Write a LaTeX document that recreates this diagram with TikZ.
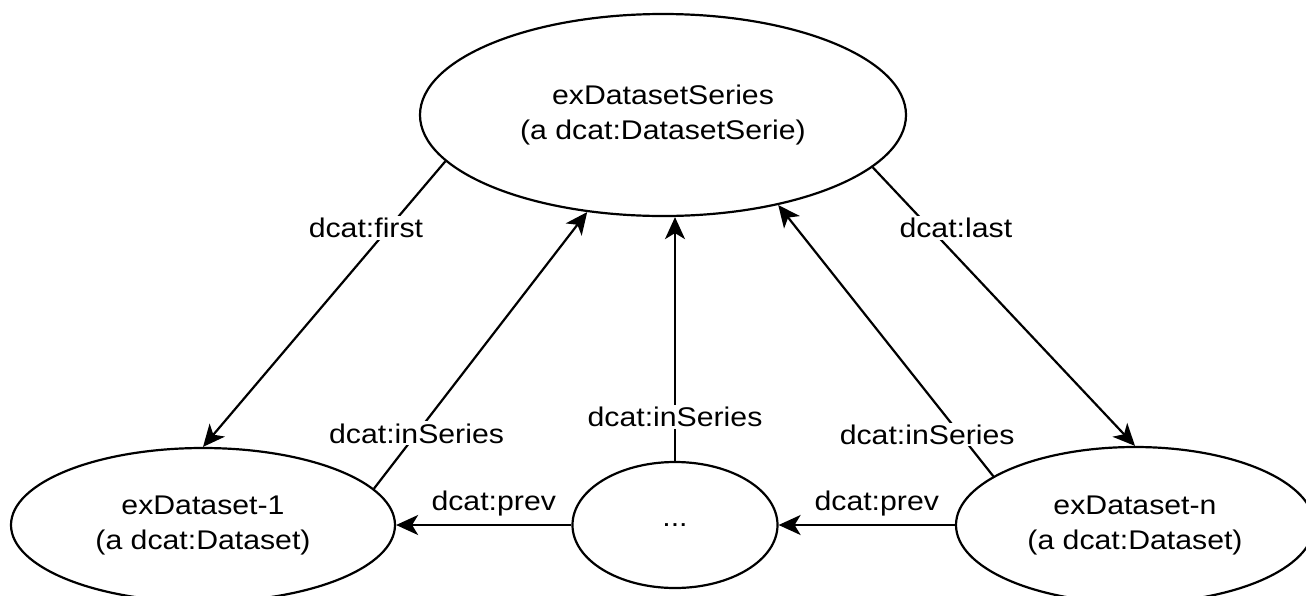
\documentclass[tikz,border=0pt]{standalone}
\usepackage{fontspec}
\setmainfont[FakeStretch=1.12]{Liberation Sans}
\usetikzlibrary{arrows.meta, positioning, shapes.geometric}
\tikzstyle{resource}=[ellipse, draw, line width=2.2pt, inner sep=0pt, align=center, font=\fontsize{27}{35}\selectfont]
\tikzstyle{post}=[->, line width=2.2pt]
\tikzstyle{prop}=[fill=white, inner sep=2pt, font=\fontsize{27}{32}\selectfont]

\begin{document}
\begin{tikzpicture}[x=1pt, y=-1pt, node distance=410pt, >={Stealth[length=22pt, width=20pt, inset=6pt]}]
      \useasboundingbox (0,0) rectangle (1306,595);
      \node[resource, minimum width=486pt, minimum height=202pt] (ser) at (663,115) {exDatasetSeries\\(a dcat:DatasetSerie)};
      \node[resource, minimum width=205pt, minimum height=126pt] (mid) [below of=ser, xshift=12pt] {...};
      \node[resource, minimum width=384pt, minimum height=154pt] (d1) [node distance=472pt, left of=mid] {exDataset-1\\(a dcat:Dataset)};
      \node[resource, minimum width=358pt, minimum height=156pt] (dn) [node distance=460pt, right of=mid] {exDataset-n\\(a dcat:Dataset)};

      \draw[post] (ser.192) -- node[prop, pos=0.233, xshift=-23pt] {dcat:first} (d1.north);
      \draw[post] (ser.346) -- node[prop, pos=0.218, xshift=26pt] {dcat:last} (dn.north);
      \draw[post] (d1.12) -- node[prop, pos=0.2] {dcat:inSeries} (ser.232);
      \draw[post] (mid.north) -- node[prop, pos=0.18] {dcat:inSeries} (mid.north |- ser.south);
      \draw[post] (dn.161) -- node[prop, pos=0.154, xshift=-33pt] {dcat:inSeries} (ser.322);
      \draw[post] (mid.west) -- node[prop, above=6pt, xshift=10pt] {dcat:prev} (d1.east);
      \draw[post] (dn.west) -- node[prop, above=6pt, xshift=10pt] {dcat:prev} (mid.east);
\end{tikzpicture}
\end{document}
